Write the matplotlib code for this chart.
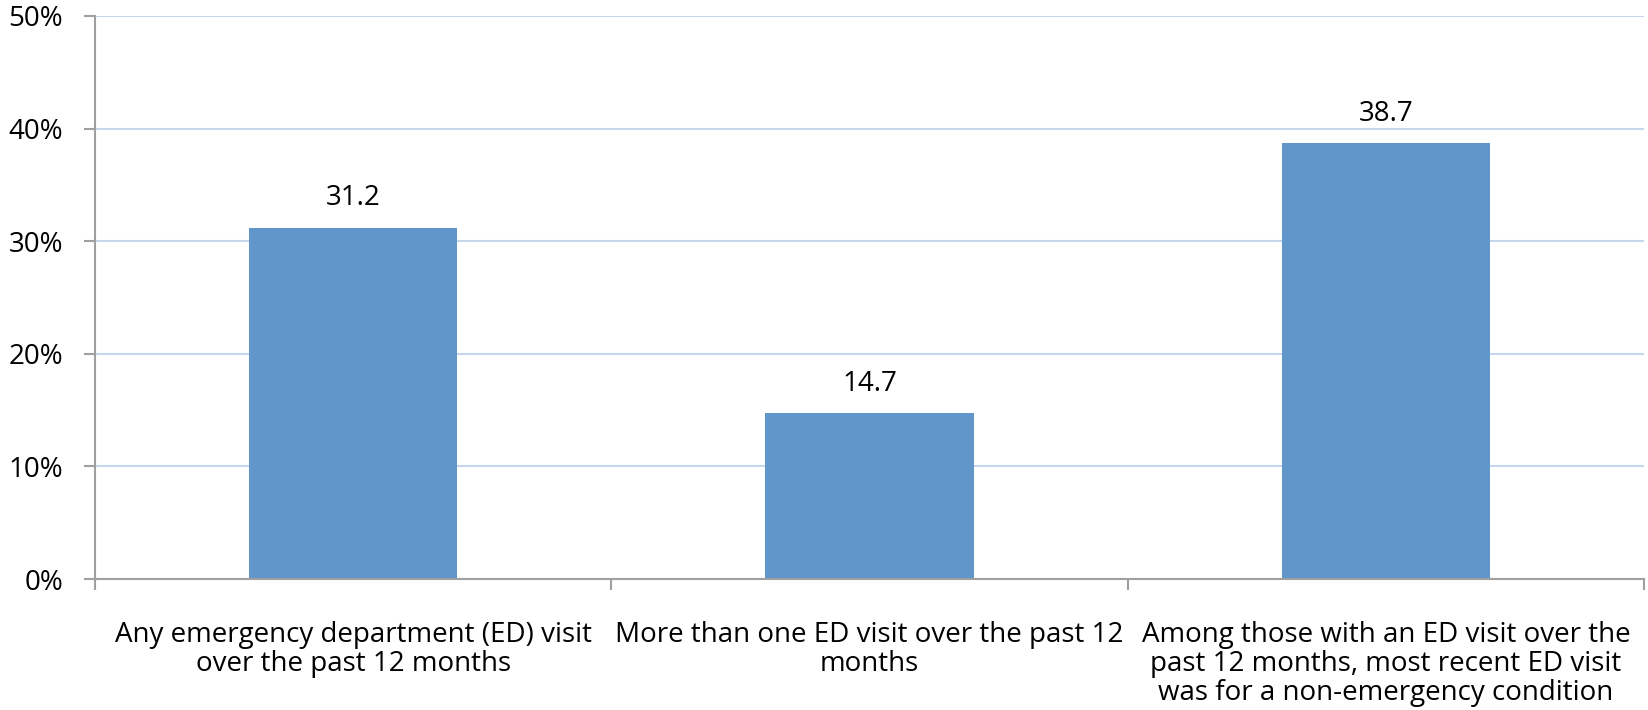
import numpy as np
import matplotlib.pyplot as plt
from matplotlib.ticker import FixedLocator, PercentFormatter

categories = [
    'Any emergency department (ED) visit\nover the past 12 months',
    'More than one ED visit over the past 12\nmonths',
    'Among those with an ED visit over the\npast 12 months, most recent ED visit\nwas for a non-emergency condition',
]
values = [31.2, 14.7, 38.7]
yticks = [0, 10, 20, 30, 40, 50]

plt.rcParams['font.family'] = ['Open Sans', 'DejaVu Sans']
fs = 20

fig = plt.figure(figsize=(16.48, 7.10), dpi=100)
ax = fig.add_axes([95/1648, 1-579/710, 1549/1648, 563/710])

x = np.arange(len(values))
bars = ax.bar(x, values, width=0.403, color='#6096C9', zorder=2)
for b, v in zip(bars, values):
    ax.annotate(f'{v:.1f}', (b.get_x() + b.get_width()/2, v), xytext=(0, 11),
                textcoords='offset points', ha='center', va='bottom', fontsize=fs, color='black')

ax.set_xlim(-0.5, len(values) - 0.5)
ax.set_ylim(0, 50)
ax.set_yticks(yticks)
ax.yaxis.set_major_formatter(PercentFormatter(decimals=0))
ax.yaxis.grid(True, color='#C6D6EC', linewidth=1.5, zorder=0)
ax.set_axisbelow(True)

ax.set_xticks(x)
ax.set_xticklabels(categories, fontsize=fs, linespacing=1.05)
ax.tick_params(axis='x', which='major', length=0, pad=30)
ax.xaxis.set_minor_locator(FixedLocator(np.arange(-0.5, len(values), 1.0)))
ax.tick_params(axis='x', which='minor', length=8, width=1.5, color='#A0A0A0')
ax.tick_params(axis='y', length=8, width=1.5, color='#A0A0A0', pad=15, labelsize=fs)

for s in ['top', 'right']:
    ax.spines[s].set_visible(False)
for s in ['left', 'bottom']:
    ax.spines[s].set_color('#A0A0A0')
    ax.spines[s].set_linewidth(1.5)

fig.savefig('out.png', dpi=100)
